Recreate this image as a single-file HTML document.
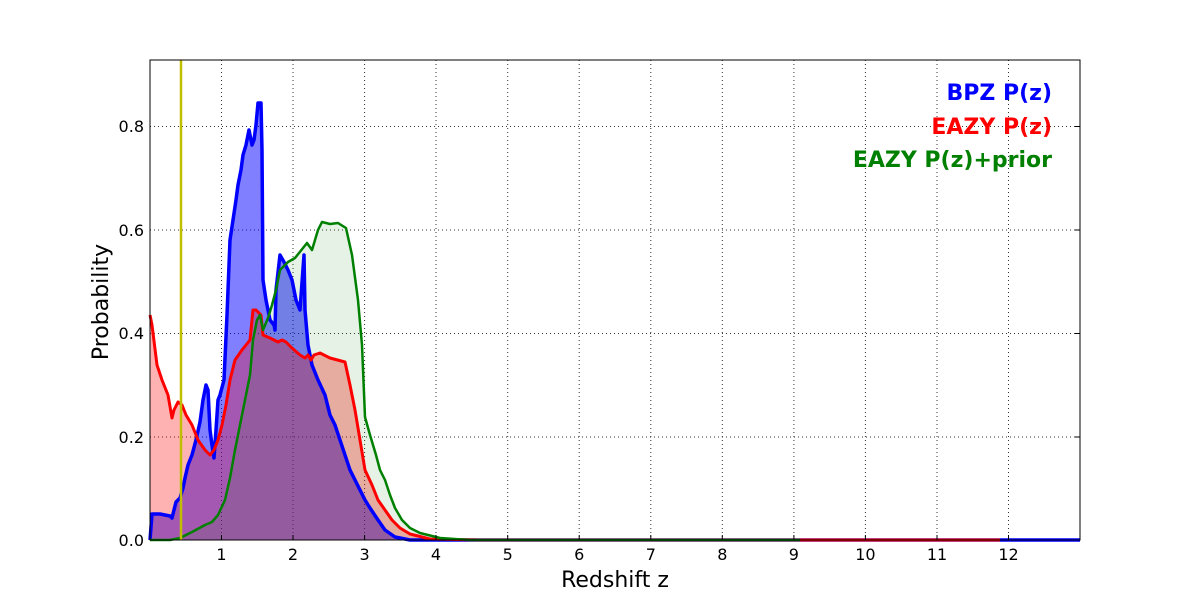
<!DOCTYPE html>
<html><head><meta charset="utf-8"><style>body{margin:0;background:#fff}svg{display:block}</style></head><body>
<svg width="1200" height="600" xmlns="http://www.w3.org/2000/svg" font-family="DejaVu Sans, sans-serif">
<rect width="1200" height="600" fill="#fff"/>
<g stroke="#000" stroke-width="1" stroke-dasharray="1,3" opacity="0.8">
<line x1="221.5" y1="60" x2="221.5" y2="540"/><line x1="293" y1="60" x2="293" y2="540"/><line x1="364.6" y1="60" x2="364.6" y2="540"/><line x1="436" y1="60" x2="436" y2="540"/><line x1="507.7" y1="60" x2="507.7" y2="540"/><line x1="579.2" y1="60" x2="579.2" y2="540"/><line x1="650.8" y1="60" x2="650.8" y2="540"/><line x1="722.3" y1="60" x2="722.3" y2="540"/><line x1="793.9" y1="60" x2="793.9" y2="540"/><line x1="865.4" y1="60" x2="865.4" y2="540"/><line x1="937" y1="60" x2="937" y2="540"/><line x1="1008.5" y1="60" x2="1008.5" y2="540"/>
<line x1="150" y1="437" x2="1080" y2="437"/><line x1="150" y1="333.5" x2="1080" y2="333.5"/><line x1="150" y1="230" x2="1080" y2="230"/><line x1="150" y1="126.5" x2="1080" y2="126.5"/>
</g>
<polygon fill="#0000ff" fill-opacity="0.5" points="150,540 152,514 160,514 170,516 172,518 176,502 180,498 183,488 185,478 188,465 192,455 196,440 200,422 203,400 206,385 208,390 210,430 212,445 214,458 216,430 218,400 220,395 224,380 227,315 230,240 233,220 236,200 238,185 241,170 243,155 246,145 249,130 252,145 254,140 256,125 258,103 261,103 262,150 263,280 266,300 270,320 274,325 275,330 276,290 280,255 284,262 288,270 292,280 296,300 300,310 304,255 305,310 308,345 312,365 318,380 325,395 330,415 335,425 340,440 345,455 350,470 355,480 360,490 365,500 370,508 378,520 385,530 395,537 410,540 1080,540"/>
<polygon fill="#ff0000" fill-opacity="0.3" points="150,540 150,315 152,325 157,365 162,380 168,395 172,418 174,410 178,402 182,405 186,415 192,425 198,440 205,450 210,455 214,450 218,440 222,425 226,405 230,380 235,360 242,350 250,340 253,310 256,310 261,315 263,335 270,338 278,342 282,340 286,342 292,348 300,355 305,358 308,355 311,360 314,355 320,353 330,358 345,362 350,385 355,410 360,440 365,470 372,485 378,500 385,510 392,520 400,528 410,534 430,539 480,540 1080,540"/>
<polygon fill="#008000" fill-opacity="0.1" points="150,540 170,540 180,538 192,532 205,525 212,522 218,515 225,500 230,478 235,450 240,425 245,400 250,375 253,340 257,320 260,315 263,330 268,318 272,305 276,290 280,270 288,262 295,258 303,248 307,243 312,250 318,230 322,222 330,224 338,223 346,228 352,255 358,300 362,345 365,417 370,435 376,455 380,470 385,480 390,495 395,508 402,520 410,528 420,533 440,538 470,540 1080,540"/>
<g fill="none" stroke-linejoin="round">
<polyline stroke="#0000ff" stroke-width="3.5" points="150,540 152,514 160,514 170,516 172,518 176,502 180,498 183,488 185,478 188,465 192,455 196,440 200,422 203,400 206,385 208,390 210,430 212,445 214,458 216,430 218,400 220,395 224,380 227,315 230,240 233,220 236,200 238,185 241,170 243,155 246,145 249,130 252,145 254,140 256,125 258,103 261,103 262,150 263,280 266,300 270,320 274,325 275,330 276,290 280,255 284,262 288,270 292,280 296,300 300,310 304,255 305,310 308,345 312,365 318,380 325,395 330,415 335,425 340,440 345,455 350,470 355,480 360,490 365,500 370,508 378,520 385,530 395,537 410,540 1080,540"/>
<polyline stroke="#ff0000" stroke-width="3" points="150,315 152,325 157,365 162,380 168,395 172,418 174,410 178,402 182,405 186,415 192,425 198,440 205,450 210,455 214,450 218,440 222,425 226,405 230,380 235,360 242,350 250,340 253,310 256,310 261,315 263,335 270,338 278,342 282,340 286,342 292,348 300,355 305,358 308,355 311,360 314,355 320,353 330,358 345,362 350,385 355,410 360,440 365,470 372,485 378,500 385,510 392,520 400,528 410,534 430,539 480,540 1000,540"/>
<polyline stroke="#008000" stroke-width="2.5" points="150,540 170,540 180,538 192,532 205,525 212,522 218,515 225,500 230,478 235,450 240,425 245,400 250,375 253,340 257,320 260,315 263,330 268,318 272,305 276,290 280,270 288,262 295,258 303,248 307,243 312,250 318,230 322,222 330,224 338,223 346,228 352,255 358,300 362,345 365,417 370,435 376,455 380,470 385,480 390,495 395,508 402,520 410,528 420,533 440,538 470,540 800,540"/>
</g>
<line x1="181" y1="60" x2="181" y2="540" stroke="#bfbf00" stroke-width="2.5"/>
<rect x="150" y="60" width="930" height="480" fill="none" stroke="#000" stroke-width="1"/>
<g stroke="#000">
<line x1="221.5" y1="540" x2="221.5" y2="535"/><line x1="293" y1="540" x2="293" y2="535"/><line x1="364.6" y1="540" x2="364.6" y2="535"/><line x1="436" y1="540" x2="436" y2="535"/><line x1="507.7" y1="540" x2="507.7" y2="535"/><line x1="579.2" y1="540" x2="579.2" y2="535"/><line x1="650.8" y1="540" x2="650.8" y2="535"/><line x1="722.3" y1="540" x2="722.3" y2="535"/><line x1="793.9" y1="540" x2="793.9" y2="535"/><line x1="865.4" y1="540" x2="865.4" y2="535"/><line x1="937" y1="540" x2="937" y2="535"/><line x1="1008.5" y1="540" x2="1008.5" y2="535"/>
<line x1="1075" y1="437" x2="1080" y2="437"/><line x1="1075" y1="333.5" x2="1080" y2="333.5"/><line x1="1075" y1="230" x2="1080" y2="230"/><line x1="1075" y1="126.5" x2="1080" y2="126.5"/>
</g>
<g font-size="16" fill="#000" text-anchor="middle">
<text x="221.5" y="560">1</text><text x="293" y="560">2</text><text x="364.6" y="560">3</text><text x="436" y="560">4</text><text x="507.7" y="560">5</text><text x="579.2" y="560">6</text><text x="650.8" y="560">7</text><text x="722.3" y="560">8</text><text x="793.9" y="560">9</text><text x="865.4" y="560">10</text><text x="937" y="560">11</text><text x="1008.5" y="560">12</text>
</g>
<g font-size="16" fill="#000" text-anchor="end">
<text x="144" y="546">0.0</text><text x="144" y="443">0.2</text><text x="144" y="339">0.4</text><text x="144" y="236">0.6</text><text x="144" y="132">0.8</text>
</g>
<text x="615" y="587" font-size="22" text-anchor="middle">Redshift z</text>
<text transform="translate(108,302) rotate(-90)" font-size="22" text-anchor="middle">Probability</text>
<g font-size="22" font-weight="bold" text-anchor="end">
<text x="1052" y="100" fill="#0000ff">BPZ P(z)</text>
<text x="1052" y="134" fill="#ff0000">EAZY P(z)</text>
<text x="1052" y="167" fill="#008000">EAZY P(z)+prior</text>
</g>
</svg>
</body></html>
